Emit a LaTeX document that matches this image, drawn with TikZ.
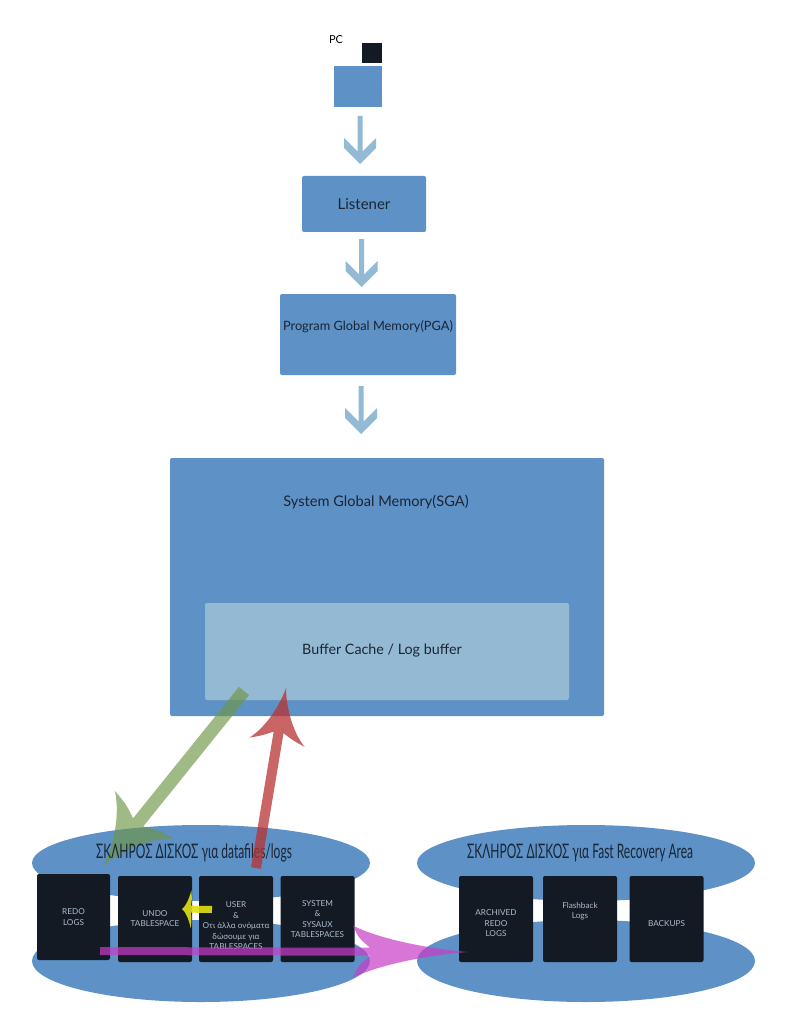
\documentclass[tikz,border=0pt]{standalone}
\usepackage{fontspec}
\setmainfont{Lato}
\usetikzlibrary{calc,shapes.geometric}
\definecolor{mblue}{RGB}{94,145,197}
\definecolor{lblue}{RGB}{148,185,211}
\definecolor{ablue}{RGB}{147,186,213}
\definecolor{dbox}{RGB}{19,26,36}
\definecolor{dtext}{RGB}{26,37,53}
\definecolor{btext}{RGB}{172,188,204}
\definecolor{agreen}{RGB}{110,150,70}
\definecolor{ared}{RGB}{185,50,50}
\definecolor{ayellow}{RGB}{225,225,20}
\definecolor{apink}{RGB}{200,60,200}
\tikzset{
  mbox/.style={rectangle, fill=mblue, inner sep=0pt, rounded corners=2pt},
  dbx/.style={rectangle, fill=dbox, inner sep=0pt, rounded corners=2pt, minimum width=74pt, minimum height=86pt},
  disk/.style={ellipse, fill=mblue, inner sep=0pt, minimum width=338pt},
  btxt/.style={text=btext, font=\fontsize{8.2}{10.5}\selectfont, align=center, inner sep=0pt},
  ttl/.style={text=dtext, inner sep=0pt},
  dtitle/.style={text=dtext, inner sep=0pt, font=\fontsize{20}{20}\selectfont},
}
\newcommand\vchev[2]{\fill[ablue] let \p1=(#1), \p2=(#2) in (\x2-2.5pt,\y1) -- (\x2-2.5pt,\y2+12.5pt) -- (\x2-16pt,\y2+26pt) -- (\x2-16pt,\y2+16pt) -- (\x2,\y2) -- (\x2+16pt,\y2+16pt) -- (\x2+16pt,\y2+26pt) -- (\x2+2.5pt,\y2+12.5pt) -- (\x2+2.5pt,\y1) -- cycle;}
% #1 start, #2 tip, #3 head length, #4 head half width, #5 shaft half width, #6 junction distance, #7 style
\newcommand\carrow[7]{%
  \path (#1) coordinate (caS) (#2) coordinate (caT);
  \pgfpointdiff{\pgfpointanchor{caS}{center}}{\pgfpointanchor{caT}{center}}%
  \pgfgetlastxy{\cadx}{\cady}%
  \pgfmathsetmacro\caang{atan2(\cady,\cadx)}%
  \pgfmathsetmacro\calen{veclen(\cadx,\cady)}%
  \pgfmathsetmacro\caA{\calen-#6}%
  \pgfmathsetmacro\caB{\calen-#3}%
  \pgfmathsetmacro\caCx{\caA-0.1*#3}%
  \pgfmathsetmacro\caCy{#5+0.45*(#4-#5)}%
  \pgfmathsetmacro\caDx{\caB+0.25*#3}%
  \pgfmathsetmacro\caDy{0.45*#4}%
  \pgfmathsetmacro\caEx{\calen-0.3*#3}%
  \pgfmathsetmacro\caEy{0.1*#4}%
  \begin{scope}[shift={(caS)}, rotate=\caang, x=1pt, y=1pt]
    \fill[#7] (0,-#5) -- (\caA,-#5) .. controls (\caCx,-\caCy) .. (\caB,-#4)
      .. controls (\caDx,-\caDy) and (\caEx,-\caEy) .. (\calen,0)
      .. controls (\caEx,\caEy) and (\caDx,\caDy) .. (\caB,#4)
      .. controls (\caCx,\caCy) .. (\caA,#5) -- (0,#5) -- cycle;
  \end{scope}}
\begin{document}
\begin{tikzpicture}[x=1pt,y=-1pt]
\useasboundingbox (0,0) rectangle (791,1024);
\fill[white] (0,0) rectangle (791,1024);

% client
\node[fill=dbox, minimum width=20pt, minimum height=20pt, inner sep=0pt] (screen) at (371.5,53) {};
\node[fill=mblue, minimum width=48pt, minimum height=41pt, inner sep=0pt] (pc) at (358,86.5) {};
\node[text=black, font=\fontsize{11}{11}\selectfont, inner sep=0pt] (pclabel) at (336,40) {PC};

% memory structures
\node[mbox, minimum width=124pt, minimum height=56pt, font=\fontsize{15}{15}\selectfont, text=dtext] (listener) at (364,204) {Listener};
\node[mbox, minimum width=176pt, minimum height=81pt] (pga) at (368,334.5) {};
\node[ttl, font=\fontsize{12.8}{12.8}\selectfont] (pgatxt) at (368,327) {Program Global Memory(PGA)};
\node[mbox, minimum width=434pt, minimum height=258pt] (sga) at (387,587) {};
\node[ttl, font=\fontsize{14.6}{14.6}\selectfont] (sgatxt) at (376,502) {System Global Memory(SGA)};
\node[fill=lblue, rounded corners=2pt, minimum width=364pt, minimum height=97pt, inner sep=0pt] (buf) at (387,651.5) {};
\node[ttl, font=\fontsize{14.3}{14.3}\selectfont] (buftxt) at (382,651) {Buffer Cache / Log buffer};

% flow arrows
\coordinate (a1s) at (360,116); \coordinate (a1t) at (360,164);
\coordinate (a2s) at (361.5,239); \coordinate (a2t) at (361.5,287);
\coordinate (a3s) at (361,386); \coordinate (a3t) at (361,434);
\vchev{a1s}{a1t}
\vchev{a2s}{a2t}
\vchev{a3s}{a3t}

% disks
\node[disk, minimum height=76pt] (d1top) at (201,863) {};
\node[disk, minimum height=82pt] (d1bot) at (201,961) {};
\node[disk, minimum height=76pt] (d2top) at (586,863) {};
\node[disk, minimum height=82pt] (d2bot) at (586,961) {};

% green arrow (buffer -> disk)
\coordinate (gs) at (244,691); \coordinate (gt) at (103,866);
\carrow{gs}{gt}{66}{38}{6.5}{56}{agreen, opacity=0.65}

\node[dtitle] (d1title) at (194,853) {\scalebox{0.6}[1]{ΣΚΛΗΡΟΣ ΔΙΣΚΟΣ για datafiles/logs}};
\node[dtitle] (d2title) at (580,853) {\scalebox{0.6}[1]{ΣΚΛΗΡΟΣ ΔΙΣΚΟΣ για Fast Recovery Area}};

% datafile boxes
\node[dbx, minimum width=73pt] (redo) at (73.5,917) {};
\node[dbx] (undo) at (155,919) {};
\node[dbx] (user) at (236,919) {};
\node[dbx] (sys) at (317.5,919) {};
\node[btxt] (redotxt) at (73.5,917) {REDO\\LOGS};
\node[btxt] (undotxt) at (155,918.5) {UNDO\\TABLESPACE};
\node[btxt] (usertxt) at (236,926) {USER\\\&\\Οτι άλλα ονόματα\\δώσουμε για\\TABLESPACES};
\node[btxt] (systxt) at (317.5,919) {SYSTEM\\\&\\SYSAUX\\TABLESPACES};

% recovery area boxes
\node[dbx] (arch) at (496,919) {};
\node[dbx] (flash) at (580,919) {};
\node[dbx] (backups) at (666.5,919) {};
\node[btxt] (archtxt) at (496,923.5) {ARCHIVED\\REDO\\LOGS};
\node[btxt] (flashtxt) at (580,911) {Flashback\\Logs};
\node[btxt] (backupstxt) at (666.5,924) {BACKUPS};

% red arrow (disk -> buffer)
\coordinate (rs) at (256,868); \coordinate (rt) at (286,688);
\carrow{rs}{rt}{55}{28}{5}{45}{ared, opacity=0.75}

% yellow arrow
\coordinate (ys) at (212,909.5); \coordinate (yt) at (182,909);
\carrow{ys}{yt}{9}{19}{3.5}{9}{ayellow, opacity=0.9}

% magenta arrow
\coordinate (ms) at (100,951); \coordinate (mt) at (468,952);
\carrow{ms}{mt}{115}{26}{4}{98}{apink, opacity=0.7}
\end{tikzpicture}
\end{document}
